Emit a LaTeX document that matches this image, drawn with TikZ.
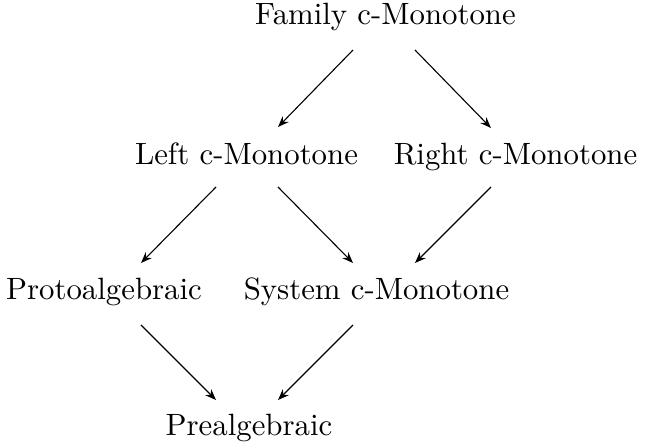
\documentclass[tikz,border=0pt]{standalone}
\usepackage{fontspec}
\setmainfont{lmroman10-regular.otf}
\usetikzlibrary{arrows.meta,calc}

\tikzset{
  lattice/.style={inner sep=0pt, text height=0.7em, text depth=0.2em,
    font=\fontsize{15.4}{18}\selectfont},
  implies/.style={line width=0.55pt, -{Stealth[length=5.5pt,width=4.2pt]}}
}

\begin{document}
\begin{tikzpicture}[x=0.5pt, y=-0.5pt]
  \useasboundingbox (0,0) rectangle (645,448);

  % classes of the hierarchy, one per row
  \node[lattice] (fam)   at (385.5,19.3)  {Family c-Monotone};
  \node[lattice] (left)  at (246.5,159.6) {Left c-Monotone};
  \node[lattice] (right) at (515.5,159.6) {Right c-Monotone};
  \node[lattice] (proto) at (104,294.3)   {Protoalgebraic};
  \node[lattice] (sys)   at (376.5,294.3) {System c-Monotone};
  \node[lattice] (pre)   at (249,430.3)   {Prealgebraic};

  % implications between the classes
  \draw[implies] ($(fam)+(-32.5,30.7)$)   -- ($(left)+(31.5,-32.6)$);
  \draw[implies] ($(fam)+(29.5,30.7)$)    -- ($(right)+(-24.5,-31.6)$);
  \draw[implies] ($(left)+(-30.5,27.4)$)  -- ($(proto)+(37,-31.3)$);
  \draw[implies] ($(left)+(31.5,27.4)$)   -- ($(sys)+(-23.5,-31.3)$);
  \draw[implies] ($(right)+(-24.5,27.4)$) -- ($(sys)+(38.5,-31.3)$);
  \draw[implies] ($(proto)+(37,30.7)$)    -- ($(pre)+(-33,-30.3)$);
  \draw[implies] ($(sys)+(-23.5,30.7)$)   -- ($(pre)+(29,-30.3)$);
\end{tikzpicture}
\end{document}
